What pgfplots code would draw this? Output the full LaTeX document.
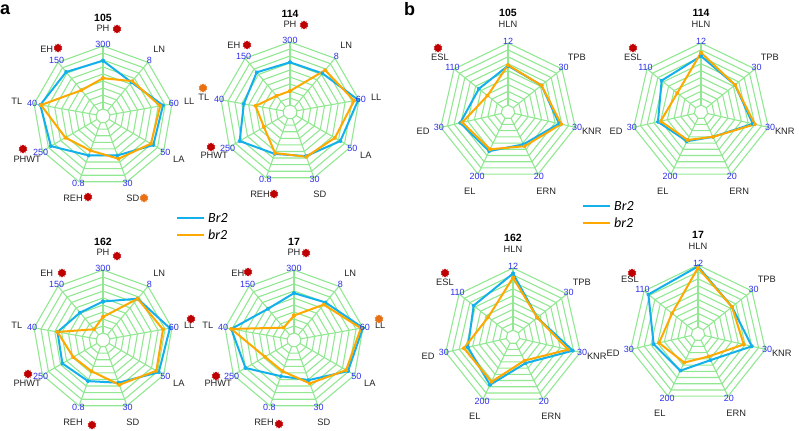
\documentclass[border=0pt]{standalone}
\usepackage{pgfplots}
\pgfplotsset{compat=1.18}
\usepackage{pgfplotstable}
\usepgfplotslibrary{polar}
\usetikzlibrary{shapes.geometric}
\usepackage{fontspec}
\setmainfont{Liberation Sans}
\newfontfamily\legfont{Carlito}

\definecolor{gridc}{RGB}{146,232,146}
\definecolor{brblue}{RGB}{20,176,235}
\definecolor{brorange}{RGB}{255,168,0}
\definecolor{tickc}{RGB}{45,45,235}
\definecolor{mred}{RGB}{192,0,0}
\definecolor{morange}{RGB}{232,112,20}
\definecolor{labc}{RGB}{35,35,35}

% panel a: angles PH LN LL LA SD REH PHWT TL EH (closing)
\pgfplotstableread{
ang max Br br
90 300 237 162
50 8 5.04 5.2
10 60 52.2 49.8
-30 50 41.5 39.5
-70 30 18.0 19.5
-110 0.8 0.48 0.42
-150 250 215 155
-190 40 36.4 36.0
-230 150 123 72
-270 300 237 162
}\tAa
\pgfplotstableread{
ang max Br br
90 300 213 90
50 8 5.76 6.24
10 60 59.4 55.8
-30 50 41.5 37
-70 30 20.1 20.4
-110 0.8 0.51 0.50
-150 250 207.5 107.5
-190 40 26.8 20
-230 150 111 45
-270 300 213 90
}\tAb
\pgfplotstableread{
ang max Br br
90 300 165 99
50 8 6.16 6.16
10 60 58.2 52.2
-30 50 46 44
-70 30 19.5 20.4
-110 0.8 0.50 0.38
-150 250 167.5 122.5
-190 40 26.4 26.4
-230 150 76.5 30
-270 300 165 99
}\tAc
\pgfplotstableread{
ang max Br br
90 300 201 105
50 8 5.6 5.28
10 60 60 58.2
-30 50 44.5 43
-70 30 18.3 19.8
-110 0.8 0.44 0.38
-150 250 200 120
-190 40 36.4 36.4
-230 150 87 34.5
-270 300 201 105
}\tAd
% panel b: HLN TPB KNR ERN EL ED ESL (closing)
\pgfplotstableread{
ang max Br br
90 12 8.04 8.16
38.571 30 18.6 18.6
-12.857 30 22.8 23.7
-64.286 20 10.4 11
-115.714 200 126 120
-167.143 30 21.3 20.4
-218.571 110 59.4 41.8
-270 12 8.04 8.16
}\tBa
\pgfplotstableread{
ang max Br br
90 12 9.72 10.32
38.571 30 18.9 18.9
-12.857 30 23.1 24
-64.286 20 8 8
-115.714 200 94 90
-167.143 30 19.2 18
-218.571 110 80.3 48.4
-270 12 9.72 10.32
}\tBb
\pgfplotstableread{
ang max Br br
90 12 11.04 10.32
38.571 30 13.5 13.5
-12.857 30 26.7 24.6
-64.286 20 8.4 7.6
-115.714 200 154 144
-167.143 30 20.1 21.9
-218.571 110 80.3 50.6
-270 12 11.04 10.32
}\tBc
\pgfplotstableread{
ang max Br br
90 12 11.76 11.52
38.571 30 18.9 18.9
-12.857 30 24 20.4
-64.286 20 8.4 7.2
-115.714 200 118 92
-167.143 30 19.8 17.4
-218.571 110 101.2 52.8
-270 12 11.76 11.52
}\tBd

\newcommand{\ticksize}{\fontsize{9bp}{10bp}\selectfont}
\newcommand{\labsize}{\fontsize{9.3bp}{10bp}\selectfont}
\newcommand{\titlesize}{\fontsize{10.5bp}{12bp}\selectfont\bfseries}

\newcommand{\radargrid}[4]{%
\begin{scope}[shift={(#1,#2)}]
\foreach \k in {1,...,10}{%
 \draw[gridc, line width=1.1bp, line join=miter] (90:{\k*#4/10}) \foreach \j in {1,...,#3}{ -- ({90-\j*360/#3}:{\k*#4/10}) } -- cycle;
}
\foreach \j in {1,...,#3}{\draw[gridc, line width=1.1bp] ({90-\j*360/#3}:{#4/10}) -- ({90-\j*360/#3}:#4);}
\end{scope}}

\newcommand{\alabels}[4]{%
\begin{scope}[shift={(#1,#2)}]
\foreach \a/\n/\t in {90/PH/300,50/LN/8,10/LL/60,-30/LA/50,-70/SD/30,-110/REH/0.8,-150/PHWT/250,-190/TL/40,-230/EH/150}{%
  \node[tickc, font=\ticksize, inner sep=0pt] at (\a:{#3+2}) {\t};
  \node[labc, font=\labsize, inner sep=0pt] at (\a:{#3+17.5}) {\n};
}
\node[font=\titlesize, inner sep=0pt] at (0,{#3+28}) {#4};
\end{scope}}

\newcommand{\blabels}[4]{%
\begin{scope}[shift={(#1,#2)}]
\foreach \a/\n/\t/\r in {90/HLN/12/19,38.571/TPB/30/19,-12.857/KNR/30/17,-64.286/ERN/20/19,-115.714/EL/200/19,-167.143/ED/30/18,-218.571/ESL/110/18}{%
  \node[tickc, font=\ticksize, inner sep=0pt] at (\a:{#3+2}) {\t};
  \node[labc, font=\labsize, inner sep=0pt] at (\a:{#3+\r}) {\n};
}
\node[font=\titlesize, inner sep=0pt] at (0,{#3+30}) {#4};
\end{scope}}

\newcommand{\mk}[3]{\node[star, star points=10, star point ratio=1.35, fill=#3, draw=none, inner sep=0pt, minimum size=9bp] at (#1,{430-#2}) {};}

\pgfplotsset{radar/.style={hide axis, scale only axis, width=#1, height=#1,
  xmin=-1, xmax=1, ymin=-1, ymax=1, enlargelimits=false, anchor=center,
  clip=false, data cs=polar},
  brl/.style={brblue, line width=2bp, line join=round, mark=*, mark size=1.1bp},
  brs/.style={brorange, line width=2bp, line join=round, mark=*, mark size=1.1bp}}

\begin{document}
\begin{tikzpicture}[x=1bp, y=1bp]
\useasboundingbox (0,0) rectangle (799,430);

% grids
\radargrid{103}{314}{9}{70}
\radargrid{290}{318}{9}{70}
\radargrid{103}{90}{9}{70}
\radargrid{294}{90}{9}{70}
\radargrid{508}{318}{7}{69}
\radargrid{701}{318}{7}{69}
\radargrid{513}{93}{7}{69}
\radargrid{698}{96}{7}{69}

% data panel a
\begin{axis}[radar=140bp, at={(103bp,314bp)}]
\addplot[brl] table[x=ang, y expr=\thisrow{Br}/\thisrow{max}] {\tAa};
\addplot[brs] table[x=ang, y expr=\thisrow{br}/\thisrow{max}] {\tAa};
\end{axis}
\begin{axis}[radar=140bp, at={(290bp,318bp)}]
\addplot[brl] table[x=ang, y expr=\thisrow{Br}/\thisrow{max}] {\tAb};
\addplot[brs] table[x=ang, y expr=\thisrow{br}/\thisrow{max}] {\tAb};
\end{axis}
\begin{axis}[radar=140bp, at={(103bp,90bp)}]
\addplot[brl] table[x=ang, y expr=\thisrow{Br}/\thisrow{max}] {\tAc};
\addplot[brs] table[x=ang, y expr=\thisrow{br}/\thisrow{max}] {\tAc};
\end{axis}
\begin{axis}[radar=140bp, at={(294bp,90bp)}]
\addplot[brl] table[x=ang, y expr=\thisrow{Br}/\thisrow{max}] {\tAd};
\addplot[brs] table[x=ang, y expr=\thisrow{br}/\thisrow{max}] {\tAd};
\end{axis}
% data panel b
\begin{axis}[radar=138bp, at={(508bp,318bp)}]
\addplot[brl] table[x=ang, y expr=\thisrow{Br}/\thisrow{max}] {\tBa};
\addplot[brs] table[x=ang, y expr=\thisrow{br}/\thisrow{max}] {\tBa};
\end{axis}
\begin{axis}[radar=138bp, at={(701bp,318bp)}]
\addplot[brl] table[x=ang, y expr=\thisrow{Br}/\thisrow{max}] {\tBb};
\addplot[brs] table[x=ang, y expr=\thisrow{br}/\thisrow{max}] {\tBb};
\end{axis}
\begin{axis}[radar=138bp, at={(513bp,93bp)}]
\addplot[brl] table[x=ang, y expr=\thisrow{Br}/\thisrow{max}] {\tBc};
\addplot[brs] table[x=ang, y expr=\thisrow{br}/\thisrow{max}] {\tBc};
\end{axis}
\begin{axis}[radar=138bp, at={(698bp,96bp)}]
\addplot[brl] table[x=ang, y expr=\thisrow{Br}/\thisrow{max}] {\tBd};
\addplot[brs] table[x=ang, y expr=\thisrow{br}/\thisrow{max}] {\tBd};
\end{axis}

% labels
\alabels{103}{314}{70}{105}
\alabels{290}{318}{70}{114}
\alabels{103}{90}{70}{162}
\alabels{294}{90}{70}{17}
\blabels{508}{318}{69}{105}
\blabels{701}{318}{69}{114}
\blabels{513}{93}{69}{162}
\blabels{698}{96}{69}{17}

% significance markers
\mk{117}{29}{mred} \mk{58}{48}{mred} \mk{23}{149}{mred} \mk{88}{197}{mred} \mk{144}{198}{morange}
\mk{304}{25}{mred} \mk{247}{45}{mred} \mk{203}{88}{morange} \mk{211}{147}{mred} \mk{274}{194}{mred}
\mk{117}{256}{mred} \mk{62}{273}{mred} \mk{191}{319}{mred} \mk{28}{374}{mred} \mk{92}{425}{mred}
\mk{306}{253}{mred} \mk{248}{272}{mred} \mk{379}{319}{morange} \mk{216}{376}{mred} \mk{279}{424}{mred}
\mk{438}{48}{mred} \mk{633}{48}{mred} \mk{445}{273}{mred} \mk{632}{273}{mred}

% legends
\draw[brblue, line width=2.2bp] (177,212) -- (204,212);
\draw[brorange, line width=2.2bp] (177,195) -- (204,195);
\node[anchor=west, inner sep=0pt, font=\legfont\itshape\fontsize{14bp}{16bp}\selectfont] at (208,212) {Br2};
\node[anchor=west, inner sep=0pt, font=\legfont\itshape\fontsize{14bp}{16bp}\selectfont] at (208,195) {br2};
\draw[brblue, line width=2.2bp] (583,224) -- (610,224);
\draw[brorange, line width=2.2bp] (583,207) -- (610,207);
\node[anchor=west, inner sep=0pt, font=\legfont\itshape\fontsize{14bp}{16bp}\selectfont] at (614,224) {Br2};
\node[anchor=west, inner sep=0pt, font=\legfont\itshape\fontsize{14bp}{16bp}\selectfont] at (614,207) {br2};

% panel letters
\node[anchor=base west, inner sep=0pt, font=\bfseries\fontsize{18bp}{20bp}\selectfont] at (0,415) {a};
\node[anchor=base west, inner sep=0pt, font=\bfseries\fontsize{18bp}{20bp}\selectfont] at (404,414) {b};
\end{tikzpicture}
\end{document}
